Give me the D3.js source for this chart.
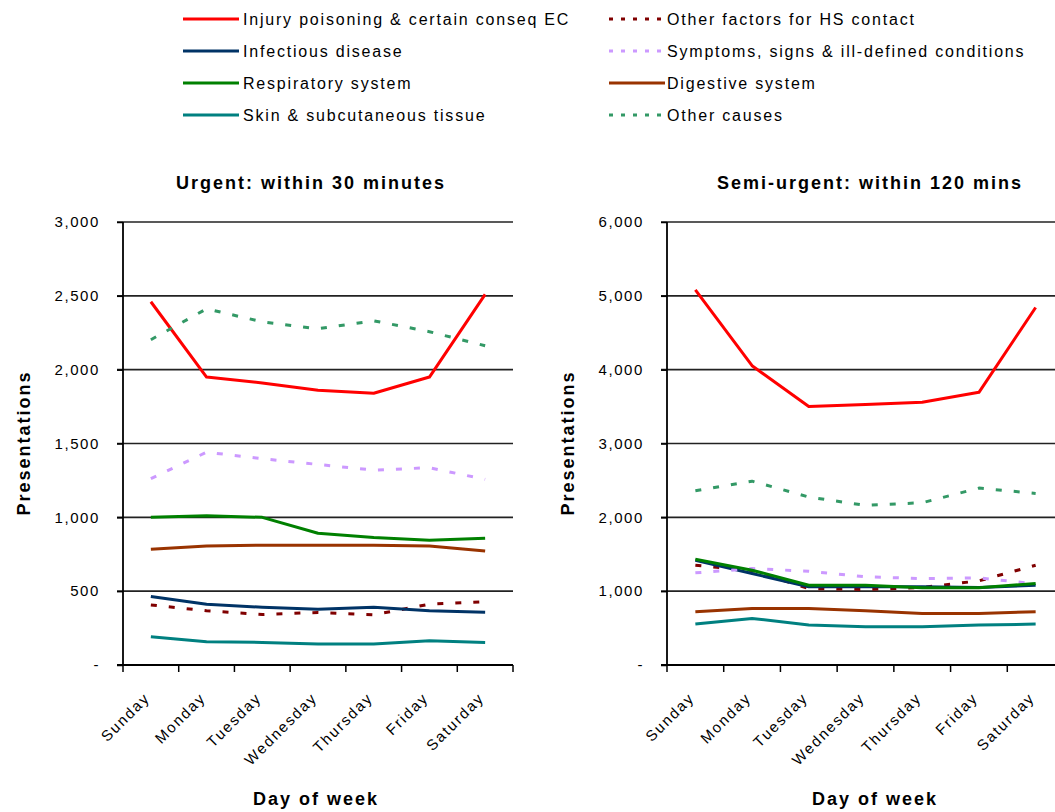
<!DOCTYPE html>
<html>
<head>
<meta charset="utf-8">
<script src="https://cdn.jsdelivr.net/npm/d3@7"></script>
<style>
  body { margin: 0; background: #fff; }
  text { font-family: "Liberation Sans", Arial, sans-serif; fill: #000; }
  .tick-lbl { font-size: 15px; letter-spacing: 1.6px; }
  .day-lbl { font-size: 15px; letter-spacing: 1.8px; }
  .legend-lbl { font-size: 16px; letter-spacing: 1.8px; }
  .bold-lbl { font-size: 18px; font-weight: bold; letter-spacing: 2px; }
</style>
</head>
<body>
<svg id="chart" width="1055" height="812"></svg>
<script>
// days along x
var days = ["Sunday", "Monday", "Tuesday", "Wednesday", "Thursday", "Friday", "Saturday"];

// series, in legend order (row by row)
var seriesNames = [
  "Injury poisoning & certain conseq EC",
  "Other factors for HS contact",
  "Infectious disease",
  "Symptoms, signs & ill-defined conditions",
  "Respiratory system",
  "Digestive system",
  "Skin & subcutaneous tissue",
  "Other causes"
];
var seriesColors = ["#ff0000", "#800000", "#003366", "#cc99ff", "#008000", "#993300", "#008080", "#339966"];
var seriesDashed = [false, true, false, true, false, false, false, true];

// Urgent: within 30 minutes
var urgent = [
  [2460, 1950, 1910, 1860, 1840, 1950, 2510],
  [407, 367, 342, 356, 340, 412, 428],
  [464, 412, 391, 378, 391, 367, 358],
  [1262, 1441, 1397, 1358, 1320, 1336, 1257],
  [1000, 1010, 1000, 892, 863, 845, 858],
  [784, 806, 811, 811, 811, 806, 772],
  [191, 158, 153, 142, 142, 164, 153],
  [2203, 2412, 2324, 2277, 2331, 2257, 2162]
];

// Semi-urgent: within 120 mins
var semiUrgent = [
  [5080, 4054, 3500, 3527, 3558, 3693, 4842],
  [1351, 1280, 1036, 1022, 1050, 1140, 1351],
  [1419, 1239, 1059, 1059, 1059, 1050, 1080],
  [1248, 1306, 1270, 1194, 1171, 1180, 1100],
  [1432, 1284, 1081, 1081, 1045, 1045, 1104],
  [721, 766, 766, 734, 698, 698, 721],
  [554, 631, 541, 518, 518, 541, 554],
  [2360, 2490, 2275, 2162, 2198, 2396, 2324]
];

var urgentTicks = [0, 500, 1000, 1500, 2000, 2500, 3000];
var semiTicks = [0, 1000, 2000, 3000, 4000, 5000, 6000];

var svg = d3.select("#chart");
svg.append("rect").attr("width", 1055).attr("height", 812).attr("fill", "#fff");

// ---- legend ----
var legend = svg.append("g").attr("class", "legend");
seriesNames.forEach(function(name, i){
  var col = i % 2, row = Math.floor(i / 2);
  var x0 = col == 0 ? 183 : 609;
  var tx = col == 0 ? 243 : 667;
  var y = 19 + row * 32;
  legend.append("line")
    .attr("x1", x0).attr("x2", x0 + 56)
    .attr("y1", y).attr("y2", y)
    .attr("stroke", seriesColors[i])
    .attr("stroke-width", 3)
    .attr("stroke-dasharray", seriesDashed[i] ? "4,8" : null);
  legend.append("text")
    .attr("class", "legend-lbl")
    .attr("x", tx).attr("y", y)
    .attr("dy", "0.36em")
    .text(name);
});

function drawPanel(opts){
  var data = opts.data;
  var x = d3.scaleBand().domain(days).range([opts.x0, opts.x1]);
  var y = d3.scaleLinear().domain([0, d3.max(opts.ticks)]).range([665, 222]);
  var g = svg.append("g");

  // gridlines
  g.selectAll(".grid")
    .data(opts.ticks.filter(function(d){ return d > 0; }))
    .enter().append("line")
      .attr("x1", opts.x0 - 6).attr("x2", opts.x1)
      .attr("y1", function(d){ return y(d); })
      .attr("y2", function(d){ return y(d); })
      .attr("stroke", "#222").attr("stroke-width", 1.6);

  // y axis
  var yAxis = d3.axisLeft(y)
    .tickValues(opts.ticks)
    .tickSize(6)
    .tickPadding(17)
    .tickFormat(function(d){ return d == 0 ? "-" : d3.format(",")(d); });
  var ya = g.append("g").attr("transform", "translate(" + opts.x0 + ",0)").call(yAxis);
  ya.select(".domain").remove();
  ya.selectAll("line").attr("stroke", "#000").attr("stroke-width", 1.5);
  ya.selectAll("text").attr("class", "tick-lbl").style("font-size", null).style("font-family", null)
    .attr("font-size", null).attr("font-family", null);
  ya.attr("font-size", null).attr("font-family", null);

  g.append("line")
    .attr("x1", opts.x0).attr("x2", opts.x0)
    .attr("y1", 222).attr("y2", 665)
    .attr("stroke", "#000").attr("stroke-width", 1.8);
  g.append("line")
    .attr("x1", opts.x0 - 6).attr("x2", opts.x1)
    .attr("y1", 665).attr("y2", 665)
    .attr("stroke", "#000").attr("stroke-width", 1.8);

  // x ticks at category boundaries
  var bounds = days.map(function(d){ return x(d); }).concat([opts.x1]);
  g.selectAll(".xtick")
    .data(bounds)
    .enter().append("line")
      .attr("x1", function(d){ return d; }).attr("x2", function(d){ return d; })
      .attr("y1", 665).attr("y2", 672)
      .attr("stroke", "#000").attr("stroke-width", 1.5);

  g.selectAll(".day-lbl")
    .data(days)
    .enter().append("text")
      .attr("class", "day-lbl")
      .attr("text-anchor", "end")
      .attr("transform", function(d){
        return "translate(" + (x(d) + x.bandwidth() / 2) + ",699) rotate(-45)";
      })
      .text(function(d){ return d; });

  // series lines
  var line = d3.line()
    .x(function(d, i){ return x(days[i]) + x.bandwidth() / 2; })
    .y(function(d){ return y(d); });

  data.forEach(function(vals, i){
    g.append("path")
      .attr("d", line(vals))
      .attr("fill", "none")
      .attr("stroke", seriesColors[i])
      .attr("stroke-width", 3)
      .attr("stroke-linejoin", "round")
      .attr("stroke-dasharray", seriesDashed[i] ? "6,12" : null);
  });

  // titles
  g.append("text")
    .attr("class", "bold-lbl")
    .attr("x", opts.titleX).attr("y", 189)
    .attr("text-anchor", "middle")
    .text(opts.title);

  g.append("text")
    .attr("class", "bold-lbl")
    .attr("x", opts.titleX + 5).attr("y", 805)
    .attr("text-anchor", "middle")
    .text("Day of week");

  g.append("text")
    .attr("class", "bold-lbl")
    .attr("transform", "translate(" + (opts.x0 - 93) + ",443) rotate(-90)")
    .attr("text-anchor", "middle")
    .text("Presentations");
}

drawPanel({ data: urgent, ticks: urgentTicks, x0: 123, x1: 513, titleX: 311, title: "Urgent: within 30 minutes" });
drawPanel({ data: semiUrgent, ticks: semiTicks, x0: 667, x1: 1064, titleX: 870, title: "Semi-urgent: within 120 mins" });
</script>
</body>
</html>
